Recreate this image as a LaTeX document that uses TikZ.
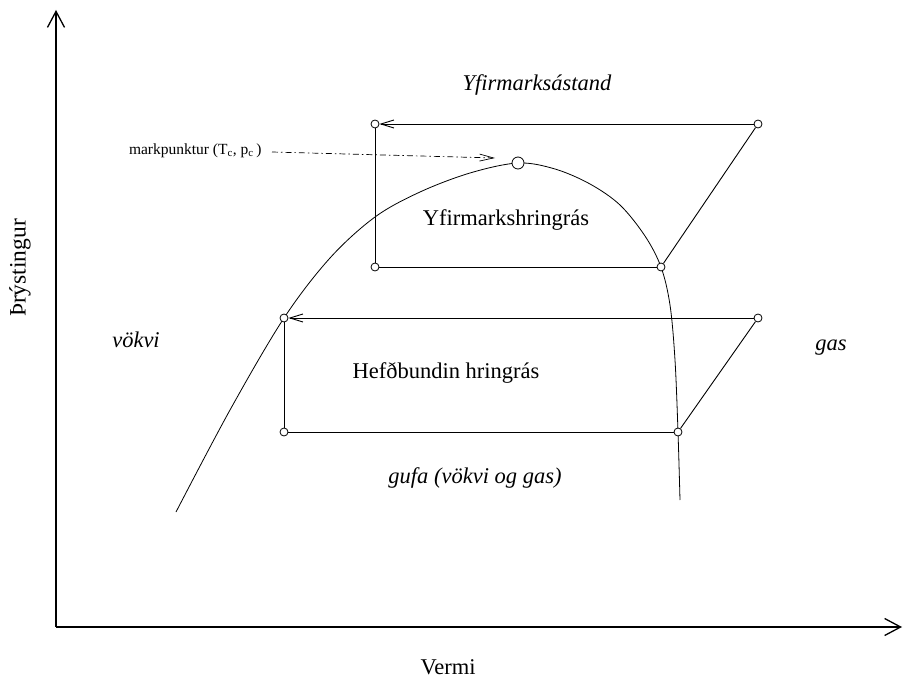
\documentclass[tikz,border=0pt]{standalone}
\usepackage{fontspec}
\setmainfont{Liberation Serif}
\usetikzlibrary{arrows.meta}
\tikzset{
  axisline/.style={line width=1.6pt,-{Straight Barb[length=16pt,width=17pt,line width=1.3pt]}},
  cyc/.style={line width=0.9pt},
  cycarrow/.style={line width=0.9pt,-{Straight Barb[length=13pt,width=8pt,line width=0.9pt]}},
  pt/.style={circle,draw,line width=0.8pt,fill=white,inner sep=0pt,minimum size=8pt},
  cpt/.style={circle,draw,line width=0.8pt,fill=white,inner sep=0pt,minimum size=12pt},
  big/.style={font=\fontsize{22.5}{26}\selectfont},
  bigit/.style={font=\fontsize{22.5}{26}\selectfont\itshape},
  small/.style={font=\fontsize{15.5}{18}\selectfont},
  dome/.style={line width=0.8pt}
}
\begin{document}
\begin{tikzpicture}[x=1pt,y=-1pt]
\useasboundingbox (0,0) rectangle (903,682);
% axes
\coordinate (O) at (56,627);
\coordinate (ytip) at (56,10);
\coordinate (xtip) at (902,627);
\draw[axisline] (O) -- (ytip);
\draw[axisline] (O) -- (xtip);
% dome
\draw[dome] plot[smooth,tension=0.55] coordinates {(176,512) (230,410) (284,318) (330,258) (375,217) (420,192) (470,173) (518,163) (555,169) (590,184) (620,205) (645,236) (661,267) (670,305) (675,360) (678,432) (680,500)};
% upper cycle
\node[pt] (u1) at (375,124) {};
\node[pt] (u2) at (758,124) {};
\node[pt] (u3) at (661,267) {};
\node[pt] (u4) at (375,267) {};
\draw[cycarrow] (u2) -- (u1);
\draw[cyc] (u1) -- (u4);
\draw[cyc] (u4) -- (u3);
\draw[cyc] (u3) -- (u2);
% lower cycle
\node[pt] (l1) at (284,318) {};
\node[pt] (l2) at (758,318) {};
\node[pt] (l3) at (678,432) {};
\node[pt] (l4) at (284,432) {};
\draw[cycarrow] (l2) -- (l1);
\draw[cyc] (l1) -- (l4);
\draw[cyc] (l4) -- (l3);
\draw[cyc] (l3) -- (l2);
% critical point
\node[cpt] (cp) at (518,163) {};
\node[small,anchor=east] (mp) at (265,151) {markpunktur (T\textsubscript{c}, p\textsubscript{c}\,)};
\coordinate (cparrow) at (495,158);
\draw[line width=0.7pt,dash pattern=on 6pt off 3pt on 1.5pt off 3pt,-{Straight Barb[length=14pt,width=7pt,line width=0.7pt]}] (mp.east) ++(7,1) -- (cparrow);
% labels
\node[bigit] (ys) at (537,85) {Yfirmarksástand};
\node[big] (yh) at (506,220) {Yfirmarkshringrás};
\node[big] (hh) at (446,373) {Hefðbundin hringrás};
\node[bigit] (vk) at (136,340) {vökvi};
\node[bigit] (gs) at (831,348) {gas};
\node[bigit] (gf) at (475,478) {gufa (vökvi og gas)};
\node[big] (vm) at (448,667) {Vermi};
\node[big,rotate=90,font=\fontsize{23.5}{27}\selectfont] (pr) at (20,268) {Þrýstingur};
\end{tikzpicture}
\end{document}
